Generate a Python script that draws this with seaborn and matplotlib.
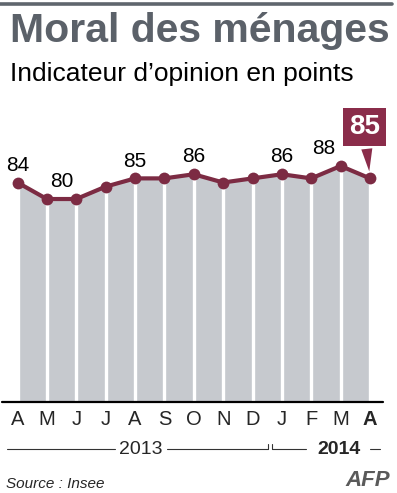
import matplotlib
matplotlib.use('Agg')
import matplotlib.pyplot as plt
import seaborn as sns
import numpy as np
from matplotlib.lines import Line2D

# Données : moral des ménages (Insee), avril 2013 - avril 2014
mois = ['A', 'M', 'J', 'J', 'A', 'S', 'O', 'N', 'D', 'J', 'F', 'M', 'A']
valeurs = [84, 80, 80, 83, 85, 85, 86, 84, 85, 86, 85, 88, 85]
# étiquettes affichées : (position, valeur, décalage horizontal en points)
etiquettes = [(0, 84, 0), (1.5, 80, 0), (4, 85, 0), (6, 86, 0), (9, 86, 0), (11, 88, -12)]
annees = ['2013', '2014']

bordeaux = '#7c2b43'
boite = '#8a2c4a'
gris_aire = '#c6c9ce'
gris_titre = '#5b6169'

sns.set_theme(style='white')
plt.rcParams['font.family'] = ['Liberation Sans', 'DejaVu Sans']

W, H = 397, 493
fig = plt.figure(figsize=(W / 100, H / 100), dpi=100)
fig.patch.set_facecolor('white')

# calque en pixels pour le titre, les années et la source
deco = fig.add_axes([0, 0, 1, 1])
deco.set_xlim(0, W)
deco.set_ylim(H, 0)
deco.axis('off')

# axe du graphique (px 2 -> 383 en x, px 100 -> 402 en y)
ax = fig.add_axes([2 / W, (H - 402) / H, 381 / W, 302 / H])
x = np.arange(len(valeurs))
px_unite = 29.375
ax.set_xlim(-15.5 / px_unite, 12 + 13 / px_unite)
y_bas, y_haut = 30.8, 104
ax.set_ylim(y_bas, y_haut)

ax.fill_between(x, y_bas, valeurs, color=gris_aire, lw=0, zorder=1)
ax.vlines(x, y_bas, valeurs, color='white', lw=2.4, zorder=2)
sns.lineplot(x=x, y=valeurs, ax=ax, color=bordeaux, lw=3, marker='o',
             markersize=8.5, markeredgewidth=0, zorder=3)
ax.axhline(y_bas, color='black', lw=1.6, clip_on=False, zorder=4)

for pos, val, dx in etiquettes:
    ax.annotate(str(val), xy=(pos, val), xytext=(dx, 8.5), textcoords='offset points',
                ha='center', va='baseline', fontsize=15, color='black')

# dernière valeur mise en avant
ax.annotate(str(valeurs[-1]), xy=(x[-1], valeurs[-1]), xytext=(-4, 37),
            textcoords='offset points', ha='center', va='center',
            fontsize=20, fontweight='bold', color='white',
            bbox=dict(boxstyle='square,pad=0.22', fc=boite, ec='none'),
            arrowprops=dict(arrowstyle='wedge,tail_width=0.4', fc=boite, ec='none',
                            shrinkB=5))

ax.set_xticks(x)
ax.set_xticklabels(mois, fontsize=14.5)
ax.get_xticklabels()[-1].set_fontweight('bold')
ax.tick_params(axis='x', length=0, pad=6)
ax.set_yticks([])
sns.despine(ax=ax, left=True, bottom=True)

# bandeau, titre, sous-titre
deco.add_line(Line2D([0, 392], [3.5, 3.5], color='#5f666d', lw=2.6))
deco.text(10, 42, 'Moral des ménages', fontsize=29.5, fontweight='bold',
          color=gris_titre, va='baseline')
deco.text(10, 81, 'Indicateur d’opinion en points', fontsize=19,
          color='black', va='baseline')

# axe des années
yl = 449
for x0, x1 in [(7, 115), (167, 268), (272, 306), (370, 380)]:
    deco.add_line(Line2D([x0, x1], [yl, yl], color='#333333', lw=0.8))
deco.add_line(Line2D([268, 268], [yl, yl - 5], color='#333333', lw=0.8))
deco.add_line(Line2D([272, 272], [yl, yl - 5], color='#333333', lw=0.8))
deco.text(140.5, yl + 1, annees[0], fontsize=14, ha='center', va='center')
deco.text(339, yl + 1, annees[1], fontsize=14, fontweight='bold',
          ha='center', va='center')

deco.text(6, 488, 'Source : Insee', fontsize=11, style='italic', va='baseline')
deco.text(390, 486, 'AFP', fontsize=16, fontweight='bold', style='italic',
          color='#5a5a5a', ha='right', va='baseline')

fig.savefig('out.png', dpi=100)
